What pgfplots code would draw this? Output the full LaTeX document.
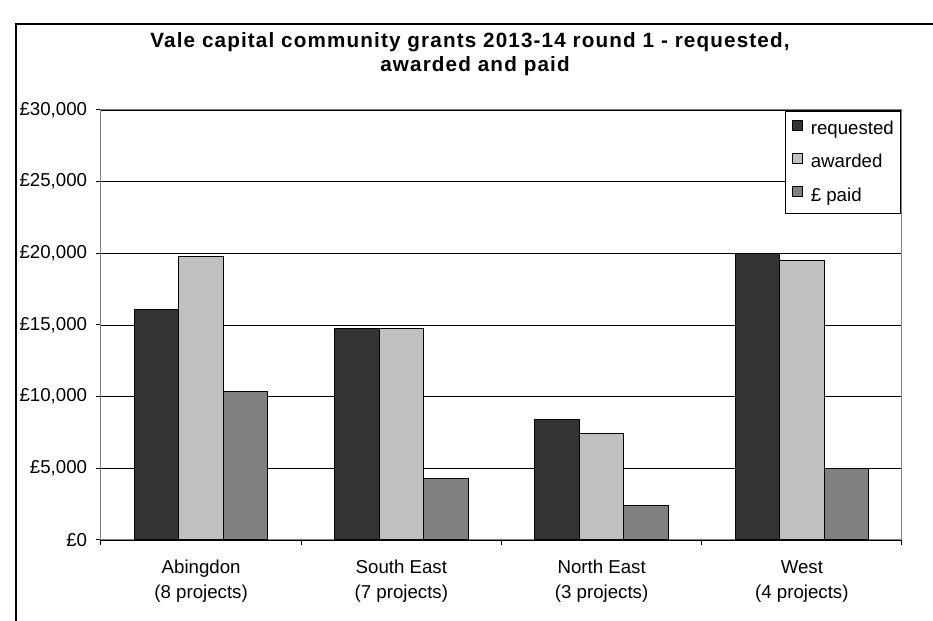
\documentclass[border=0pt]{standalone}
\usepackage{fontspec}
\setmainfont{Liberation Sans}
\usepackage{pgfplots}
\pgfplotsset{compat=1.18}
\definecolor{req}{HTML}{333333}
\definecolor{awd}{HTML}{C0C0C0}
\definecolor{paid}{HTML}{808080}
\definecolor{axgray}{HTML}{808080}
\newfontfamily\titlefont[LetterSpace=5.5]{Liberation Sans}
\begin{document}
\begin{tikzpicture}
\begin{scope}[x=0.75pt,y=0.75pt]
\useasboundingbox (-101,-81) rectangle (832,540);
\draw[line width=1.1pt] (-85,-100) -- (-85,516) -- (850,516);
\node[anchor=base, inner sep=0pt, font=\titlefont\fontsize{15.5}{18}\selectfont\bfseries] at (369,492) {Vale capital community grants 2013-14 round 1 - requested,};
\node[anchor=base, inner sep=0pt, font=\titlefont\fontsize{15.5}{18}\selectfont\bfseries] at (374,468) {awarded and paid};
\end{scope}
\begin{axis}[
  at={(0pt,0pt)}, anchor=south west,
  scale only axis, width=600.75pt, height=322.5pt,
  xmin=-0.5, xmax=3.5, ymin=0, ymax=30000,
  axis line style={axgray, line width=0.75pt},
  ymajorgrids, major grid style={black, line width=0.6pt},
  tick pos=left, tick align=outside, major tick length=3.5pt,
  ytick={0,5000,10000,15000,20000,25000,30000},
  scaled y ticks=false,
  yticklabel={£\pgfmathprintnumber[assume math mode=true, fixed, precision=0, 1000 sep={,}]{\tick}},
  ytick style={black, line width=0.75pt},
  y tick label style={font=\fontsize{14}{16}\selectfont, inner sep=0pt, anchor=east, xshift=-6.75pt},
  xtick={0,1,2,3},
  xticklabels={{Abingdon\strut\\(8 projects)\strut},{South East\strut\\(7 projects)\strut},{North East\strut\\(3 projects)\strut},{West\strut\\(4 projects)\strut}},
  xtick style={draw=none},
  x tick label style={font=\fontsize{14}{18.75}\selectfont, align=center, inner sep=0pt, anchor=north, yshift=-8.1pt},
  extra x ticks={-0.5,0.5,1.5,2.5,3.5},
  extra x tick labels={},
  extra x tick style={xtick style={draw=black, line width=0.75pt}, grid=none},
  legend image code/.code={\draw[#1,draw=black,line width=0.6pt] (0pt,-0.5pt) rectangle (7.5pt,7pt);},
  legend style={at={(1,1)}, anchor=north east, xshift=-0.75pt, yshift=-0.75pt,
    draw=black, line width=0.75pt, fill=white, font=\fontsize{14}{16}\selectfont,
    inner xsep=5pt, inner ysep=6.5pt, row sep=10.75pt, column sep=6pt,
    nodes={inner sep=0pt, text height=10.5pt, text depth=3pt}},
  legend cell align=left,
]
\addplot[ybar, bar width=0.2222, bar shift=-0.2222, fill=req, draw=black, line width=0.75pt]
  coordinates {(0,16100) (1,14770) (2,8440) (3,20000)};
\addplot[ybar, bar width=0.2222, bar shift=0, fill=awd, draw=black, line width=0.75pt]
  coordinates {(0,19750) (1,14770) (2,7440) (3,19500)};
\addplot[ybar, bar width=0.2222, bar shift=0.2222, fill=paid, draw=black, line width=0.75pt]
  coordinates {(0,10350) (1,4280) (2,2440) (3,5000)};
\legend{requested,awarded,£ paid}
\end{axis}
\end{tikzpicture}
\end{document}
